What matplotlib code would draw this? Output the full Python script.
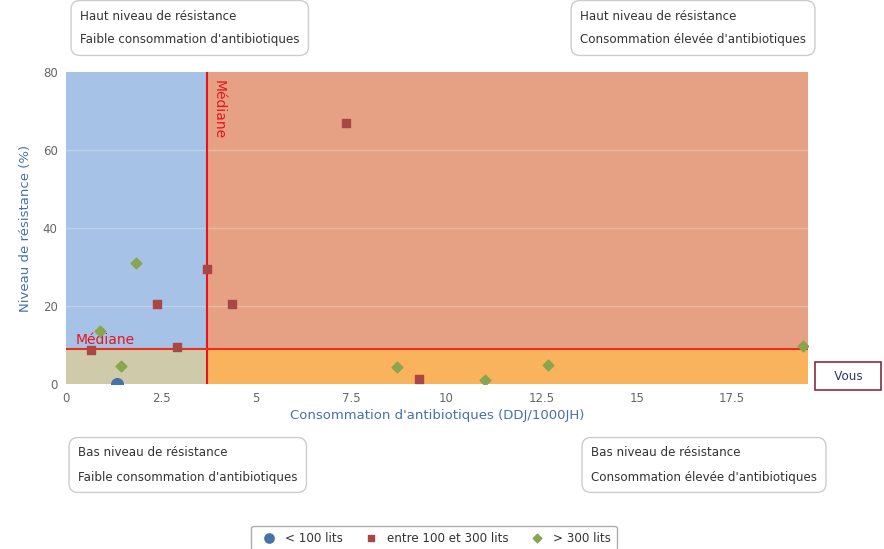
import matplotlib.pyplot as plt
from matplotlib.patches import Rectangle

# Données
petits_x = [1.34]
petits_y = [0.0]
moyens_x = [7.35, 2.39, 4.36, 3.70, 0.66, 2.91, 9.29]
moyens_y = [67.0, 20.5, 20.5, 29.5, 8.8, 9.5, 1.3]
grands_x = [1.84, 0.89, 1.44, 8.69, 11.0, 12.68, 19.37]
grands_y = [31.0, 13.5, 4.5, 4.3, 1.0, 4.8, 9.8]

mediane_x = 3.70
mediane_y = 9.0
x_max = 19.5
y_max = 80

x_ticks = [0, 2.5, 5, 7.5, 10, 12.5, 15, 17.5]
x_labels = ['0', '2.5', '5', '7.5', '10', '12.5', '15', '17.5']
y_ticks = [0, 20, 40, 60, 80]

W, H = 884, 549
fig = plt.figure(figsize=(W / 100, H / 100), dpi=100)
ax = fig.add_axes([66 / W, 1 - 384 / H, (808 - 66) / W, (384 - 72) / H])

# Quadrants colorés
ax.add_patch(Rectangle((0, mediane_y), mediane_x, y_max - mediane_y, color='#a6c2e6', zorder=0))
ax.add_patch(Rectangle((mediane_x, mediane_y), x_max - mediane_x, y_max - mediane_y, color='#e6a185', zorder=0))
ax.add_patch(Rectangle((0, 0), mediane_x, mediane_y, color='#cfcbaa', zorder=0))
ax.add_patch(Rectangle((mediane_x, 0), x_max - mediane_x, mediane_y, color='#f8b35c', zorder=0))

for yt in y_ticks[1:-1]:
    ax.axhline(yt, color='white', alpha=0.25, lw=1, zorder=1)

ax.axvline(mediane_x, color='#e8141c', lw=1.5, zorder=2)
ax.axhline(mediane_y, color='#e8301c', lw=1.5, zorder=2)
ax.text(0.25, mediane_y + 0.5, 'Médiane', color='#e8141c', fontsize=10, va='bottom', zorder=3)
ax.text(mediane_x + 0.12, y_max - 2, 'Médiane', color='#e8141c', fontsize=10,
        rotation=-90, va='top', ha='left', zorder=3)

ax.scatter(petits_x, petits_y, marker='o', s=70, color='#4572a7', zorder=4,
           label='< 100 lits')
ax.scatter(moyens_x, moyens_y, marker='s', s=30, color='#aa4643', zorder=4,
           label='entre 100 et 300 lits')
ax.scatter(grands_x, grands_y, marker='D', s=30, color='#89a54e', zorder=4,
           label='> 300 lits')

ax.set_xlim(0, x_max)
ax.set_ylim(0, y_max)
ax.set_xticks(x_ticks)
ax.set_xticklabels(x_labels)
ax.set_yticks(y_ticks)
ax.tick_params(length=0, labelsize=8.5, labelcolor='#666666', pad=6)
for s in ax.spines.values():
    s.set_visible(False)

ax.set_xlabel("Consommation d'antibiotiques (DDJ/1000JH)", color='#4572a7', fontsize=9.5, labelpad=3)
ax.set_ylabel('Niveau de résistance (%)', color='#4572a7', fontsize=9.5, labelpad=8)

box = dict(boxstyle='round,pad=0.75', fc='white', ec='#cccccc', lw=1)
fs = 8.6
ls = 2.1
fig.text(80 / W, 1 - 28 / H, "Haut niveau de résistance\nFaible consommation d'antibiotiques",
         fontsize=fs, color='#333333', va='center', linespacing=ls, bbox=box)
fig.text(580 / W, 1 - 28 / H, "Haut niveau de résistance\nConsommation élevée d'antibiotiques",
         fontsize=fs, color='#333333', va='center', linespacing=ls, bbox=box)
fig.text(78 / W, 1 - 465 / H, "Bas niveau de résistance\nFaible consommation d'antibiotiques",
         fontsize=fs, color='#333333', va='center', linespacing=ls, bbox=box)
fig.text(591 / W, 1 - 465 / H, "Bas niveau de résistance\nConsommation élevée d'antibiotiques",
         fontsize=fs, color='#333333', va='center', linespacing=ls, bbox=box)
fig.text(848 / W, 1 - 376 / H, '   Vous   ', fontsize=fs, color='#333366', ha='center', va='center',
         bbox=dict(boxstyle='square,pad=0.6', fc='white', ec='#8b2c3c', lw=1.2))

leg = fig.legend(loc='center', bbox_to_anchor=(434 / W, 1 - 538 / H), ncol=3, fontsize=8.6,
                 frameon=True, handletextpad=0.3, columnspacing=1.4, borderpad=0.5,
                 markerscale=0.8)
leg.get_frame().set_edgecolor('#999999')
for t in leg.get_texts():
    t.set_color('#333333')

fig.savefig('out.png', dpi=100)
